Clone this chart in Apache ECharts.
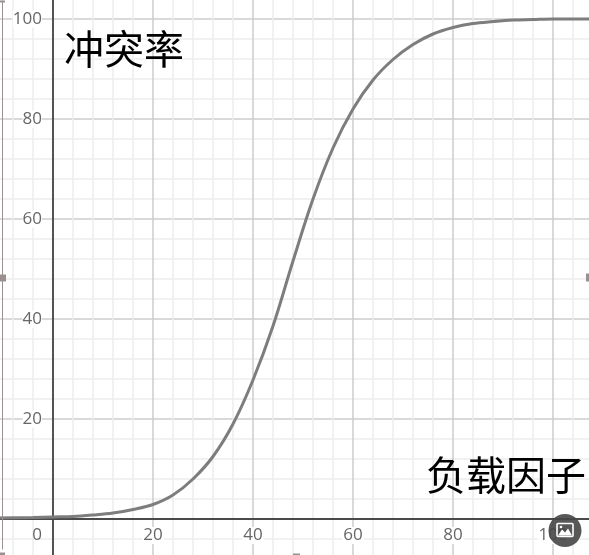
<!DOCTYPE html>
<html>
<head>
<meta charset="utf-8">
<script src="https://cdn.jsdelivr.net/npm/echarts@6/dist/echarts.min.js"></script>
<style>
  html, body { margin: 0; padding: 0; background: #fff; overflow: hidden; width: 589px; height: 555px; }
  /* plot spans x -12..108, y -8..104 at 5 px per unit; shifted so x=0 sits at 53 px, y=0 at 518.5 px */
  #chart { position: absolute; left: -7px; top: -1.5px; width: 600px; height: 560px; }
</style>
</head>
<body>
<div id="chart"></div>
<script>
// load factor (x) and collision rate (y)
const loadFactor = [-12, -4, 0, 4, 8, 12, 16, 20, 24, 28, 32, 36, 40, 44, 48, 52, 56, 60, 64, 68, 72, 76, 80, 84, 88, 92, 96, 100, 104, 108];
const collisionRate = [0.2, 0.3, 0.4, 0.5, 0.8, 1.2, 1.9, 2.9, 4.8, 8, 12.5, 19, 27.8, 38.6, 51.6, 64, 74.2, 82, 87.8, 91.9, 94.9, 97, 98.3, 99.1, 99.5, 99.8, 99.9, 100, 100, 100];
const xTicks = [0, 20, 40, 60, 80, 100];
const yTicks = [20, 40, 60, 80, 100];
const xName = '负载因子';
const yName = '冲突率';

const chart = echarts.init(document.getElementById('chart'));

const points = loadFactor.map((x, i) => [x, collisionRate[i]]);

const handleColor = '#9a9090';
const major = '#cdcdcd';
const minor = '#ececec';

chart.setOption({
  animation: false,
  backgroundColor: '#fff',
  grid: { left: 0, right: 0, top: 0, bottom: 0, containLabel: false, outerBoundsMode: 'none' },
  xAxis: {
    type: 'value',
    min: -12,
    max: 108,
    interval: 4,
    position: 'bottom',
    offset: -40, // move the axis up from y=-8 to y=0
    axisLine: { onZero: false, lineStyle: { color: '#4a4a4a', width: 2 } },
    axisTick: { show: false },
    splitLine: { show: true, lineStyle: { color: [minor, minor, minor, major, minor], width: 1.5 } },
    axisLabel: {
      show: true,
      margin: 8,
      fontFamily: 'Open Sans, sans-serif',
      fontSize: 17,
      color: '#666',
      formatter: v => {
        if (!xTicks.includes(v)) return '';
        return v === 0 ? '{zero|0}' : '{n|' + v + '}';
      },
      rich: {
        zero: { padding: [0, 32, 0, 0], fontSize: 17, color: '#666', fontFamily: 'Open Sans, sans-serif' },
        n: { backgroundColor: '#fff', padding: [0, 1], fontSize: 17, color: '#666', fontFamily: 'Open Sans, sans-serif' }
      }
    }
  },
  yAxis: {
    type: 'value',
    min: -8,
    max: 104,
    interval: 4,
    position: 'left',
    offset: -60, // move the axis right from x=-12 to x=0
    axisLine: { show: true, onZero: false, lineStyle: { color: '#262626', width: 1.5 } },
    axisTick: { show: false },
    splitLine: { show: true, lineStyle: { color: [minor, minor, major, minor, minor], width: 1.5 } },
    axisLabel: {
      show: true,
      margin: 11,
      fontFamily: 'Open Sans, sans-serif',
      fontSize: 17,
      color: '#666',
      backgroundColor: '#fff',
      formatter: v => (yTicks.includes(v) ? String(v) : '')
    }
  },
  series: [{
    type: 'line',
    data: points,
    smooth: 0.35,
    showSymbol: false,
    lineStyle: { color: '#7d7d7d', width: 3 },
    z: 3
  }],
  graphic: [{
    type: 'group',
    x: 7,
    y: 1.5,
    children: [
      {
        type: 'text', x: 64, y: 28, z: 10,
        style: { text: yName, font: '40px "Noto Sans CJK SC"', fill: '#000' }
      },
      {
        type: 'text', x: 426, y: 454, z: 10,
        style: { text: xName, font: '40px "Noto Sans CJK SC"', fill: '#000' }
      },
      // selection frame and handles
      { type: 'line', z: 20, shape: { x1: 2.5, y1: 0, x2: 2.5, y2: 549 }, style: { stroke: handleColor, lineWidth: 1 } },
      { type: 'rect', z: 20, shape: { x: 0, y: 274, width: 6, height: 7 }, style: { fill: handleColor } },
      { type: 'rect', z: 20, shape: { x: 586, y: 273, width: 3, height: 8 }, style: { fill: handleColor } },
      { type: 'rect', z: 20, shape: { x: 0, y: 552, width: 5, height: 3 }, style: { fill: handleColor } },
      { type: 'rect', z: 20, shape: { x: 293, y: 553, width: 7, height: 2 }, style: { fill: handleColor } },
      { type: 'rect', z: 20, shape: { x: 0, y: 0, width: 5, height: 2 }, style: { fill: handleColor } },
      // image export button
      { type: 'circle', z: 20, shape: { cx: 565, cy: 530, r: 16.5 }, style: { fill: 'rgba(70,70,70,0.9)' } },
      { type: 'rect', z: 21, shape: { x: 557, y: 523, width: 16, height: 13, r: 1 }, style: { fill: 'none', stroke: '#fff', lineWidth: 1.6 } },
      { type: 'polygon', z: 21, shape: { points: [[558, 535], [562, 529], [565, 532], [568, 528], [572, 535]] }, style: { fill: '#fff' } },
      { type: 'circle', z: 21, shape: { cx: 561, cy: 526.5, r: 1.3 }, style: { fill: '#fff' } }
    ]
  }]
});
</script>
</body>
</html>
